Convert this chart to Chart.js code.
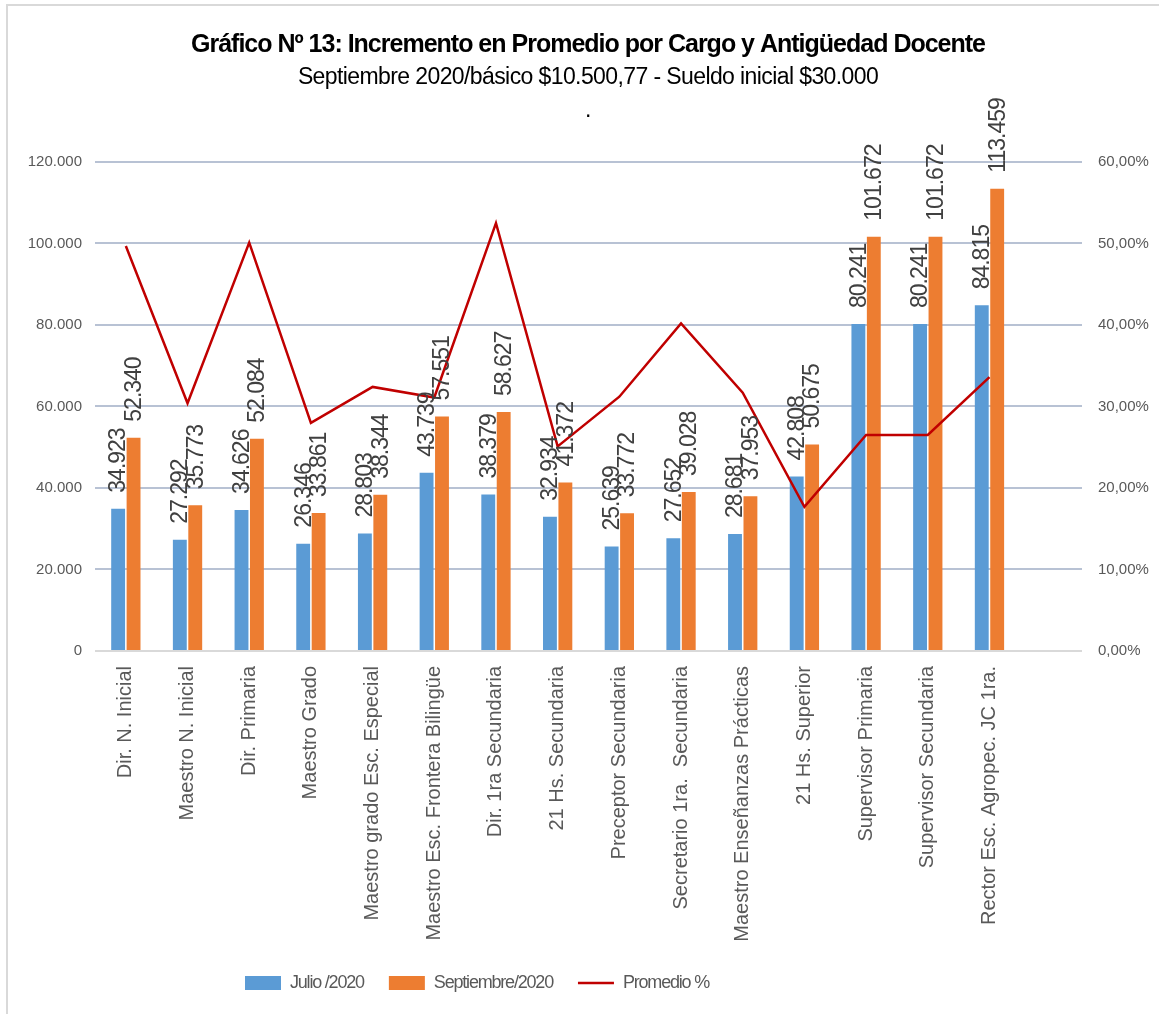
<!DOCTYPE html>
<html>
<head>
<meta charset="utf-8">
<title>Gráfico Nº 13</title>
<script src="https://cdn.jsdelivr.net/npm/chart.js@4.4.1/dist/chart.umd.min.js"></script>
<style>
  html, body { margin: 0; padding: 0; background: #fff; overflow: hidden; }
  #wrap { position: relative; width: 1159px; height: 1014px; }
  #frame { position: absolute; left: 6px; top: 4px; width: 1170px; height: 1030px;
           border-left: 2px solid #d9d9d9; border-top: 2px solid #d9d9d9; }
  #chart { position: absolute; left: 0; top: 0; }
</style>
</head>
<body>
<div id="wrap">
  <div id="frame"></div>
  <canvas id="chart" width="1159" height="1014"></canvas>
</div>
<script>
"use strict";

const categories = [
  'Dir. N. Inicial', 'Maestro N. Inicial', 'Dir. Primaria', 'Maestro Grado',
  'Maestro grado Esc. Especial', 'Maestro Esc. Frontera Bilingüe', 'Dir. 1ra Secundaria',
  '21 Hs. Secundaria', 'Preceptor Secundaria', 'Secretario 1ra.  Secundaria',
  'Maestro Enseñanzas Prácticas', '21 Hs. Superior', 'Supervisor Primaria',
  'Supervisor Secundaria', 'Rector Esc. Agropec. JC 1ra.'
];
const julio2020 = [34923, 27292, 34626, 26346, 28803, 43739, 38379, 32934, 25639, 27652, 28681, 42808, 80241, 80241, 84815];
const septiembre2020 = [52340, 35773, 52084, 33861, 38344, 57551, 58627, 41372, 33772, 39028, 37953, 50675, 101672, 101672, 113459];
const promedioPct = [49.7, 30.4, 50.1, 28.0, 32.4, 31.1, 52.5, 25.1, 31.2, 40.2, 31.7, 17.7, 26.5, 26.5, 33.6];

const FONT = "'Liberation Sans', Arial, sans-serif";
const GREY = '#595959';

function fmtMiles(v) {
  return String(Math.round(v)).replace(/\B(?=(\d{3})+(?!\d))/g, '.');
}

// rotated value labels above each bar
const barLabels = {
  id: 'barLabels',
  afterDatasetsDraw(chart) {
    const ctx = chart.ctx;
    ctx.save();
    ctx.font = '23px ' + FONT;
    ctx.letterSpacing = '-1px';
    ctx.fillStyle = '#404040';
    ctx.textAlign = 'left';
    ctx.textBaseline = 'middle';
    chart.data.datasets.forEach((ds, i) => {
      if (ds.type === 'line') return;
      chart.getDatasetMeta(i).data.forEach((bar, j) => {
        const v = ds.data[j];
        if (v == null) return;
        ctx.save();
        ctx.translate(bar.x + 1, bar.y - 16);
        ctx.rotate(-Math.PI / 2);
        ctx.fillText(fmtMiles(v), 0, 0);
        ctx.restore();
      });
    });
    ctx.letterSpacing = '0px';
    ctx.restore();
  }
};

// the original uses a narrow font: tighten title / subtitle / legend text
function withSpacing(box, sp) {
  if (box._sp) return;
  box._sp = true;
  ['fit', 'draw'].forEach(m => {
    const orig = box[m];
    box[m] = function (...a) {
      const ctx = this.ctx;
      const prev = ctx.letterSpacing;
      ctx.letterSpacing = sp;
      try { return orig.apply(this, a); } finally { ctx.letterSpacing = prev || '0px'; }
    };
  });
}

const tightText = {
  id: 'tightText',
  beforeLayout(chart) {
    chart.boxes.forEach(b => {
      if (b instanceof Chart.Scale) return;
      if (b === chart.titleBlock) withSpacing(b, '-1px');
      else if (b === chart.legend) withSpacing(b, '-1.2px');
      else withSpacing(b, '-0.6px');
    });
  },
  beforeDraw(chart) {
    chart.boxes.forEach(b => {
      if (b instanceof Chart.Scale) return;
      if (b === chart.legend) {
        // legend sits left of centre in the original
        b.left = 0;
        b.right = 954;
      } else {
        b.left = 17;
        b.right = 1159;
      }
    });
  }
};

new Chart(document.getElementById('chart'), {
  type: 'bar',
  data: {
    labels: [...categories, ''],
    datasets: [
      {
        label: 'Julio /2020',
        data: julio2020,
        backgroundColor: '#5b9bd5',
        yAxisID: 'y',
        order: 2,
        categoryPercentage: 0.5,
        barPercentage: 0.9
      },
      {
        label: 'Septiembre/2020',
        data: septiembre2020,
        backgroundColor: '#ed7d31',
        yAxisID: 'y',
        order: 2,
        categoryPercentage: 0.5,
        barPercentage: 0.9
      },
      {
        type: 'line',
        label: 'Promedio %',
        data: promedioPct,
        borderColor: '#c00000',
        backgroundColor: '#c00000',
        borderWidth: 2.5,
        pointRadius: 0,
        tension: 0,
        yAxisID: 'y1',
        order: 1
      }
    ]
  },
  options: {
    responsive: false,
    animation: false,
    layout: { padding: { top: 30, left: 0, right: 0, bottom: 12 } },
    plugins: {
      title: {
        display: true,
        text: 'Gráfico Nº 13: Incremento en Promedio por Cargo y Antigüedad Docente',
        color: '#000',
        font: { family: FONT, size: 25, weight: 'bold', lineHeight: 1.2 },
        padding: { top: 0, bottom: 0 }
      },
      subtitle: {
        display: true,
        text: ['Septiembre 2020/básico $10.500,77 - Sueldo inicial $30.000', '.'],
        color: '#000',
        font: { family: FONT, size: 23, lineHeight: 1.43 },
        padding: { top: 1.5, bottom: 34.7 }
      },
      legend: {
        position: 'bottom',
        labels: {
          color: GREY,
          font: { family: FONT, size: 18 },
          usePointStyle: true,
          pointStyleWidth: 36,
          boxHeight: 14,
          padding: 25,
          sort: (a, b) => a.datasetIndex - b.datasetIndex,
          generateLabels(chart) {
            const items = Chart.defaults.plugins.legend.labels.generateLabels(chart);
            items.forEach(it => {
              const ds = chart.data.datasets[it.datasetIndex];
              it.pointStyle = ds.type === 'line' ? 'line' : 'rect';
              if (ds.type !== 'line') it.lineWidth = 0;
            });
            return items;
          }
        }
      },
      tooltip: { enabled: false }
    },
    scales: {
      x: {
        grid: { display: false, drawTicks: false },
        border: { display: false },
        ticks: {
          color: GREY,
          font: { family: FONT, size: 20 },
          minRotation: 90,
          maxRotation: 90,
          autoSkip: false,
          padding: 15
        },
        afterFit(s) { s.height = 298; }
      },
      y: {
        position: 'left',
        min: 0,
        max: 120000,
        ticks: {
          stepSize: 20000,
          color: GREY,
          font: { family: FONT, size: 15 },
          padding: 13,
          callback: v => fmtMiles(v)
        },
        grid: {
          drawTicks: false,
          lineWidth: 2,
          color: c => c.tick && c.tick.value === 0 ? '#d9d9d9' : '#b8c2d4'
        },
        border: { display: false },
        afterFit(s) { s.width = 95; }
      },
      y1: {
        position: 'right',
        min: 0,
        max: 60,
        ticks: {
          stepSize: 10,
          color: GREY,
          font: { family: FONT, size: 15 },
          padding: 16,
          callback: v => v.toFixed(2).replace('.', ',') + '%'
        },
        grid: { display: false, drawTicks: false },
        border: { display: false },
        afterFit(s) { s.width = 77; }
      }
    }
  },
  plugins: [barLabels, tightText]
});
</script>
</body>
</html>
